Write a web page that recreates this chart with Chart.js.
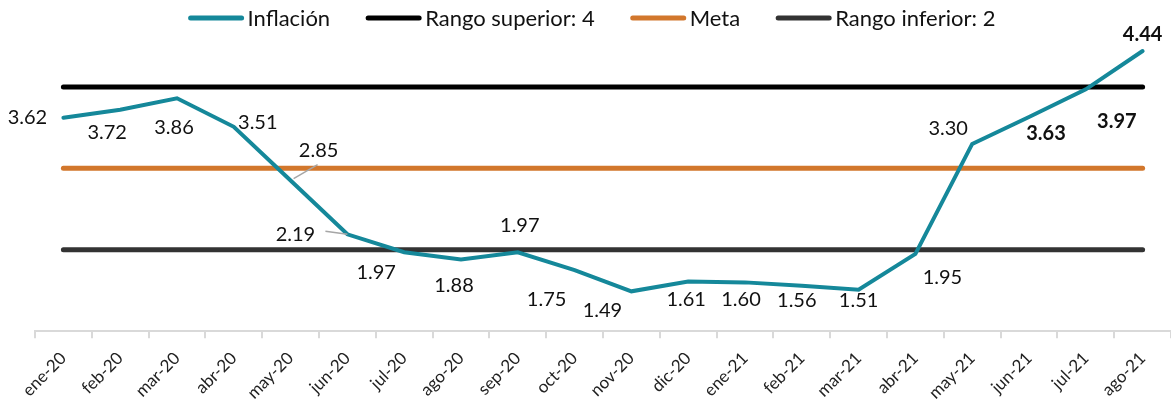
<!DOCTYPE html>
<html>
<head>
<meta charset="utf-8">
<script src="https://cdn.jsdelivr.net/npm/chart.js@4.4.0/dist/chart.umd.min.js"></script>
<style>
  body { margin: 0; background: #fff; }
  #wrap { width: 1171px; height: 413px; }
</style>
</head>
<body>
<div id="wrap"><canvas id="inflChart"></canvas></div>
<script>
// Data
var months = ['ene-20','feb-20','mar-20','abr-20','may-20','jun-20','jul-20','ago-20','sep-20','oct-20',
              'nov-20','dic-20','ene-21','feb-21','mar-21','abr-21','may-21','jun-21','jul-21','ago-21'];
var inflacion = [3.62, 3.72, 3.86, 3.51, 2.85, 2.19, 1.97, 1.88, 1.97, 1.75,
                 1.49, 1.61, 1.60, 1.56, 1.51, 1.95, 3.30, 3.63, 3.97, 4.44];
var rangoSuperior = [4,4,4,4,4,4,4,4,4,4,4,4,4,4,4,4,4,4,4,4];
var meta          = [3,3,3,3,3,3,3,3,3,3,3,3,3,3,3,3,3,3,3,3];
var rangoInferior = [2,2,2,2,2,2,2,2,2,2,2,2,2,2,2,2,2,2,2,2];

// label placement (offset from the point, in px) - styling only
var labelOffsets = [[-36,0],[-13,23],[-3,29],[24,-4],[28,-30],[-52,0],[-28,20],[-7,26],[2,-27],[-28,29],
                    [-29,19],[-2,18],[-4,17],[-5,15],[0,11],[27,24],[-24,-15],[17,17],[31,32],[0,-16]];
var boldLabels = [17, 18, 19];
// leader lines: index -> [fromDx, fromDy, toDx, toDy]
var leaders = { 4: [3, -2, 27, -16], 5: [-22, -3, 0, 0] };

var FONT = 'Lato, "Open Sans", sans-serif';

var pointLabels = {
    id: 'pointLabels',
    afterDatasetsDraw: function (chart) {
        var ctx = chart.ctx;
        var meta0 = chart.getDatasetMeta(0);
        ctx.save();
        // leader lines first
        ctx.strokeStyle = '#a6a6a6';
        ctx.lineWidth = 1.5;
        Object.keys(leaders).forEach(function (k) {
            var el = meta0.data[k];
            var l = leaders[k];
            ctx.beginPath();
            ctx.moveTo(el.x + l[0], el.y + l[1]);
            ctx.lineTo(el.x + l[2], el.y + l[3]);
            ctx.stroke();
        });
        ctx.textAlign = 'center';
        ctx.textBaseline = 'middle';
        ctx.fillStyle = '#111';
        meta0.data.forEach(function (el, i) {
            var bold = boldLabels.indexOf(i) >= 0;
            ctx.font = (bold ? 'bold ' : '') + '20px ' + FONT;
            ctx.fillText(inflacion[i].toFixed(2), el.x + labelOffsets[i][0], el.y + labelOffsets[i][1]);
        });
        ctx.restore();
    }
};

// legend drawn by hand so the spacing matches (line 55px, gap 4px, 36px between items)
var lineLegend = {
    id: 'lineLegend',
    afterDraw: function (chart) {
        var ctx = chart.ctx;
        var sets = chart.data.datasets;
        var lineW = 55, gap = 4, itemGap = 36, yMid = 18;
        ctx.save();
        ctx.font = '22px ' + FONT;
        var widths = sets.map(function (ds) { return ctx.measureText(ds.label).width; });
        var total = 0;
        widths.forEach(function (w) { total += lineW + gap + w; });
        total += itemGap * (sets.length - 1);
        var x = 592 - total / 2;
        ctx.textBaseline = 'middle';
        ctx.textAlign = 'left';
        sets.forEach(function (ds, i) {
            ctx.strokeStyle = ds.borderColor;
            ctx.lineWidth = 5;
            ctx.lineCap = 'round';
            ctx.beginPath();
            ctx.moveTo(x + 2, yMid);
            ctx.lineTo(x + lineW - 2, yMid);
            ctx.stroke();
            ctx.fillStyle = '#111';
            ctx.fillText(ds.label, x + lineW + gap, yMid + 1);
            x += lineW + gap + widths[i] + itemGap;
        });
        ctx.restore();
    }
};

var ctx = document.getElementById('inflChart');
var chart = new Chart(ctx, {
    type: 'line',
    data: {
        labels: months,
        datasets: [
            { label: 'Inflación', data: inflacion, borderColor: '#15889a', backgroundColor: '#15889a',
              borderWidth: 4, borderCapStyle: 'round', pointRadius: 0, tension: 0 },
            { label: 'Rango superior: 4', data: rangoSuperior, borderColor: '#000000', backgroundColor: '#000000',
              borderWidth: 5, borderCapStyle: 'round', pointRadius: 0 },
            { label: 'Meta', data: meta, borderColor: '#d2772c', backgroundColor: '#d2772c',
              borderWidth: 5, borderCapStyle: 'round', pointRadius: 0 },
            { label: 'Rango inferior: 2', data: rangoInferior, borderColor: '#333333', backgroundColor: '#333333',
              borderWidth: 5, borderCapStyle: 'round', pointRadius: 0 }
        ]
    },
    options: {
        responsive: true,
        maintainAspectRatio: false,
        animation: false,
        layout: { padding: { left: 35, right: 0, top: 38, bottom: 0 } },
        plugins: {
            tooltip: { enabled: false },
            legend: { display: false }
        },
        scales: {
            x: {
                offset: true,
                grid: { offset: true, drawOnChartArea: false, tickLength: 7, color: '#d9d9d9', lineWidth: 2 },
                border: { color: '#d9d9d9', width: 2 },
                ticks: { maxRotation: 45, minRotation: 45, color: '#222', font: { family: FONT, size: 17 }, padding: 10 }
            },
            y: {
                display: false,
                min: 1,
                max: 4.6
            }
        }
    },
    plugins: [pointLabels, lineLegend]
});
</script>
</body>
</html>
